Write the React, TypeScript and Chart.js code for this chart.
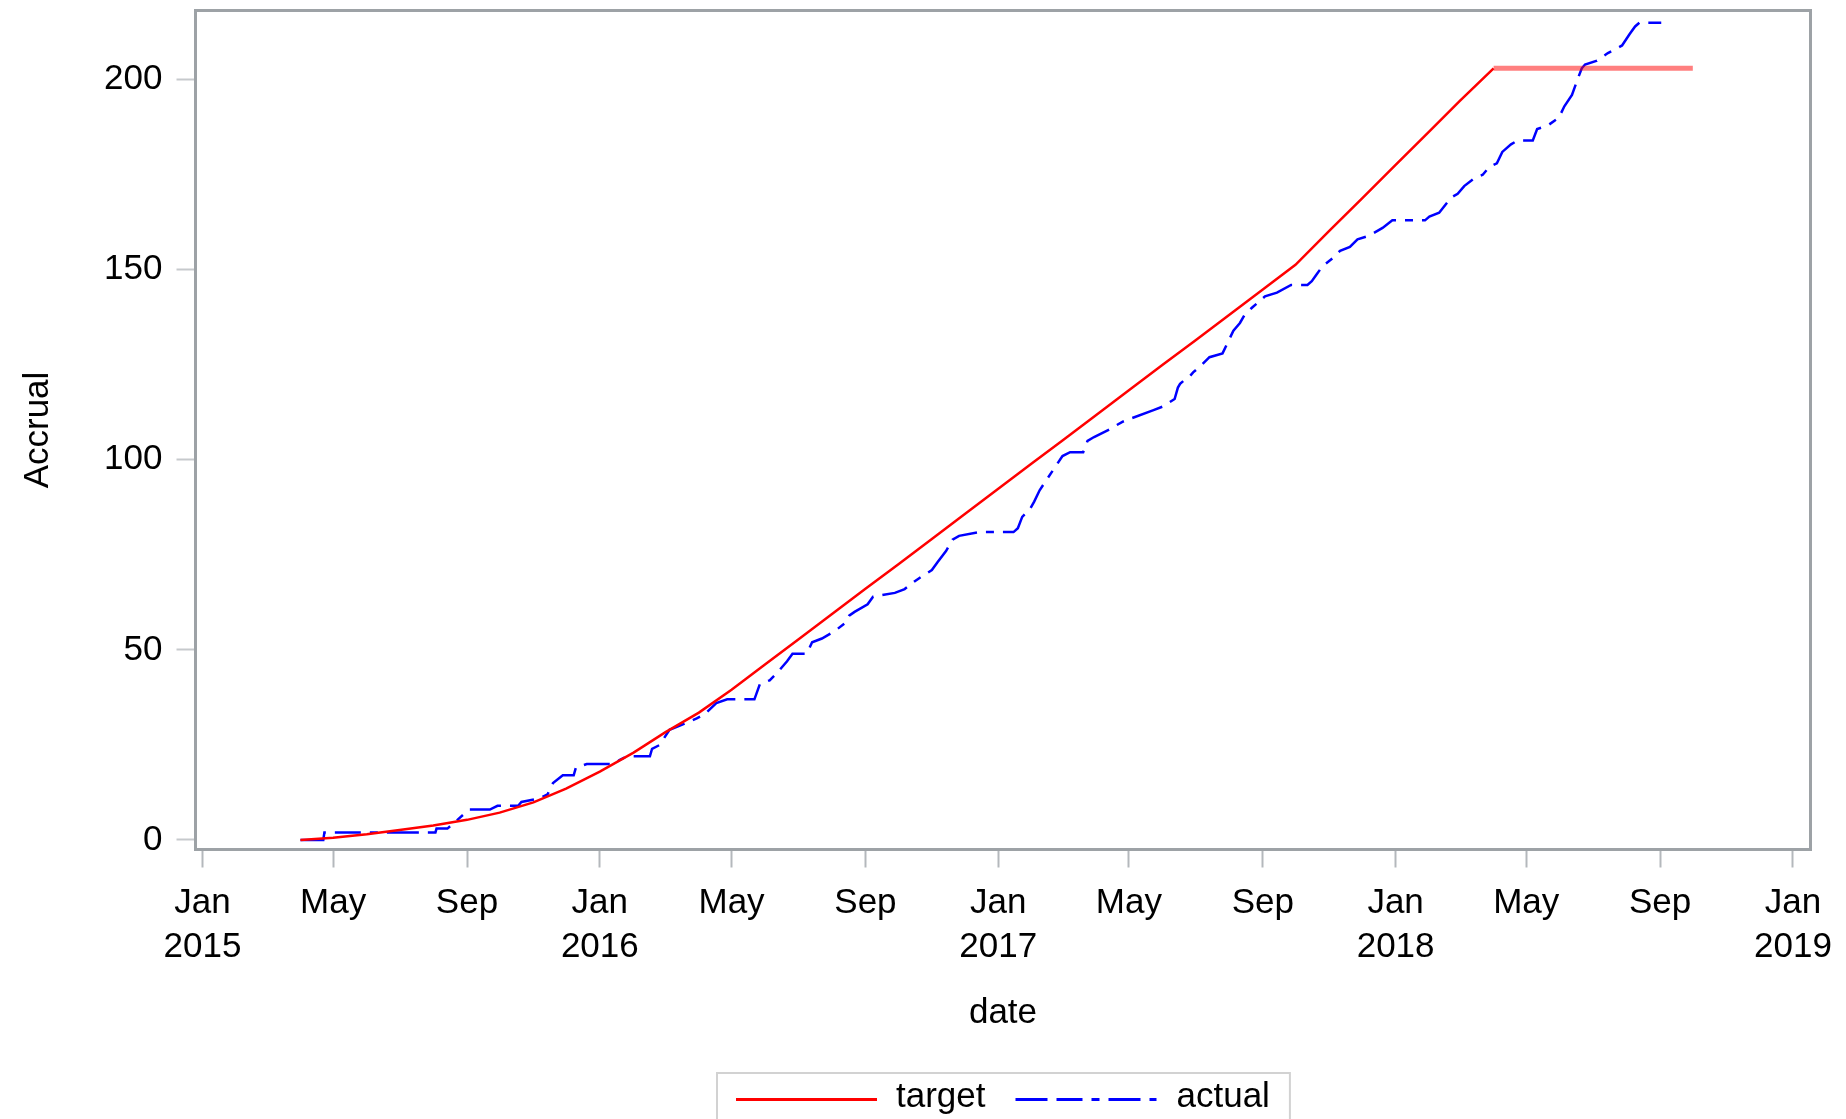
import React, { useEffect, useRef } from 'react';
import { Chart, registerables } from 'chart.js';

Chart.register(...registerables);

const SERIES_NAMES = ['target', 'actual'];

const TARGET_DATES = [
  '2015-04-01', '2015-05-01', '2015-06-01', '2015-07-01', '2015-08-01', '2015-09-01',
  '2015-10-01', '2015-11-01', '2015-12-01', '2016-01-01', '2016-02-01', '2016-03-01',
  '2016-04-01', '2016-05-01', '2016-06-01', '2016-07-01', '2016-08-01', '2016-09-01',
  '2016-10-01', '2016-11-01', '2016-12-01', '2017-01-01', '2017-02-01', '2017-03-01',
  '2017-04-01', '2017-05-01', '2017-06-01', '2017-07-01', '2017-08-01', '2017-09-01',
  '2017-10-01', '2017-11-01', '2017-12-01', '2018-01-01', '2018-02-01', '2018-03-01',
  '2018-04-01', '2018-10-01',
];
const TARGET_VALUES = [
  0, 0.6, 1.5, 2.6, 3.8, 5.3,
  7.2, 9.9, 13.5, 18, 23, 28.3,
  33.5, 39.5, 46.2, 52.7, 59.4, 66.1,
  72.5, 79.2, 85.7, 92.4, 99.1, 105.1,
  111.8, 118.3, 125.0, 131.4, 138.1, 144.8,
  151.3, 160.2, 168.7, 177.6, 186.4, 194.4,
  203, 203,
];

const ACTUAL_DATES = [
  '2015-04-01', '2015-04-22', '2015-04-23', '2015-08-03', '2015-08-04', '2015-08-14',
  '2015-08-30', '2015-09-03', '2015-09-22', '2015-09-29', '2015-10-18', '2015-10-21',
  '2015-11-07', '2015-11-14', '2015-11-19', '2015-11-28', '2015-12-08', '2015-12-10',
  '2015-12-20', '2016-01-14', '2016-01-19', '2016-01-26', '2016-02-16', '2016-02-18',
  '2016-02-25', '2016-03-05', '2016-03-14', '2016-03-30', '2016-04-06', '2016-04-17',
  '2016-04-27', '2016-05-22', '2016-05-27', '2016-06-05', '2016-06-12', '2016-06-21',
  '2016-06-26', '2016-07-09', '2016-07-14', '2016-07-23', '2016-08-04', '2016-08-13',
  '2016-08-17', '2016-08-22', '2016-09-03', '2016-09-08', '2016-09-28', '2016-10-07',
  '2016-10-16', '2016-10-21', '2016-11-01', '2016-11-06', '2016-11-14', '2016-11-20',
  '2016-11-26', '2016-12-15', '2017-01-15', '2017-01-19', '2017-01-23', '2017-01-30',
  '2017-02-03', '2017-02-08', '2017-02-15', '2017-02-22', '2017-03-01', '2017-03-08',
  '2017-03-20', '2017-03-24', '2017-03-30', '2017-04-13', '2017-04-25', '2017-05-04',
  '2017-05-23', '2017-06-01', '2017-06-12', '2017-06-15', '2017-06-17', '2017-06-21',
  '2017-06-26', '2017-06-29', '2017-07-07', '2017-07-14', '2017-07-26', '2017-07-31',
  '2017-08-05', '2017-08-11', '2017-08-15', '2017-08-22', '2017-09-03', '2017-09-14',
  '2017-09-27', '2017-10-12', '2017-10-16', '2017-10-21', '2017-10-26', '2017-11-04',
  '2017-11-11', '2017-11-20', '2017-11-27', '2017-12-08', '2017-12-20', '2017-12-29',
  '2018-01-28', '2018-02-01', '2018-02-10', '2018-02-21', '2018-02-27', '2018-03-05',
  '2018-03-14', '2018-03-22', '2018-03-28', '2018-04-04', '2018-04-09', '2018-04-17',
  '2018-04-23', '2018-05-07', '2018-05-11', '2018-05-21', '2018-05-31', '2018-06-05',
  '2018-06-12', '2018-06-17', '2018-06-21', '2018-06-24', '2018-07-05', '2018-07-15',
  '2018-07-28', '2018-08-04', '2018-08-09', '2018-08-13', '2018-09-02',
];
const ACTUAL_VALUES = [
  0, 0, 2, 2, 3, 3,
  7, 8, 8, 9, 9, 10,
  11, 12, 15, 17, 17, 19,
  20, 20, 21, 22, 22, 24,
  25, 29, 30, 32, 33, 36,
  37, 37, 41, 42, 44, 47,
  49, 49, 52, 53, 55, 57,
  59, 60, 62, 64, 65, 66,
  68, 69, 71, 73, 76, 79,
  80, 81, 81, 82, 85, 87,
  89, 92, 95, 98, 101, 102,
  102, 105, 106, 108, 110, 111,
  113, 114, 116, 119, 120, 121,
  122, 123, 125, 127, 128, 131,
  134, 136, 138, 140, 143, 144,
  146, 146, 147, 149, 151, 153,
  155, 156, 158, 159, 161, 163,
  163, 164, 165, 169, 170, 172,
  174, 175, 177, 178, 181, 183,
  184, 184, 187, 188, 190, 193,
  196, 200, 203, 204, 205, 207,
  209, 212, 214, 215, 215,
];

const X_TICK_DATES = [
  '2015-01-01', '2015-05-01', '2015-09-01',
  '2016-01-01', '2016-05-01', '2016-09-01',
  '2017-01-01', '2017-05-01', '2017-09-01',
  '2018-01-01', '2018-05-01', '2018-09-01',
  '2019-01-01',
];
const X_TICK_LABELS: (string | string[])[] = [
  ['Jan', '2015'], 'May', 'Sep',
  ['Jan', '2016'], 'May', 'Sep',
  ['Jan', '2017'], 'May', 'Sep',
  ['Jan', '2018'], 'May', 'Sep',
  ['Jan', '2019'],
];
const Y_TICKS = [0, 50, 100, 150, 200];

const X_TITLE = 'date';
const Y_TITLE = 'Accrual';

const DAY = 86400000;
const toTime = (s: string) => {
  const [y, m, d] = s.split('-').map(Number);
  return Date.UTC(y, m - 1, d);
};
const X_MIN = toTime('2015-01-01') - 6.4 * DAY;
const X_MAX = toTime('2019-01-01') + 16.1 * DAY;
const Y_MIN = -2.5;
const Y_MAX = 218.2;

const FONT_FAMILY = '"Liberation Sans", Arial, sans-serif';
const FONT_SIZE = 35;
const ACTUAL_DASH = [32, 9, 26, 9, 8, 9];

const framePlugin = {
  id: 'frame',
  afterDraw(chart: any) {
    const { ctx, chartArea } = chart;
    ctx.save();
    ctx.strokeStyle = '#9da2a6';
    ctx.lineWidth = 3;
    ctx.setLineDash([]);
    ctx.strokeRect(chartArea.left, chartArea.top, chartArea.right - chartArea.left, chartArea.bottom - chartArea.top);
    ctx.restore();
  },
};

const legendPlugin = {
  id: 'boxLegend',
  afterDraw(chart: any) {
    const { ctx, chartArea } = chart;
    const ds = chart.data.datasets;
    ctx.save();
    ctx.font = `${FONT_SIZE}px ${FONT_FAMILY}`;
    const w1 = ctx.measureText(SERIES_NAMES[0]).width;
    const w2 = ctx.measureText(SERIES_NAMES[1]).width;
    const lineLen = 141;
    const total = 19 + lineLen + 19 + w1 + 30 + lineLen + 20 + w2 + 20;
    const left = Math.round((chartArea.left + chartArea.right) / 2 - total / 2);
    const top = chart.height - 46;
    const lineY = top + 26.5;
    ctx.strokeStyle = '#d2d2d2';
    ctx.lineWidth = 2;
    ctx.strokeRect(left, top, total, 90);

    let x = left + 19;
    ctx.lineCap = 'butt';
    ctx.strokeStyle = ds[0].borderColor;
    ctx.lineWidth = 3;
    ctx.setLineDash([]);
    ctx.beginPath();
    ctx.moveTo(x, lineY);
    ctx.lineTo(x + lineLen, lineY);
    ctx.stroke();
    x += lineLen + 19;
    ctx.fillStyle = '#000';
    ctx.textBaseline = 'middle';
    ctx.textAlign = 'left';
    ctx.fillText(SERIES_NAMES[0], x, lineY - 2);
    x += w1 + 30;
    ctx.strokeStyle = ds[1].borderColor;
    ctx.setLineDash(ACTUAL_DASH);
    ctx.beginPath();
    ctx.moveTo(x, lineY);
    ctx.lineTo(x + lineLen, lineY);
    ctx.stroke();
    ctx.setLineDash([]);
    x += lineLen + 20;
    ctx.fillText(SERIES_NAMES[1], x, lineY - 2);
    ctx.restore();
  },
};

const isFlatTop = (c: any) => c.p0.parsed.y === c.p1.parsed.y && c.p0.parsed.y >= 200;

export default function App() {
  const ref = useRef<HTMLCanvasElement>(null);

  useEffect(() => {
    const canvas = ref.current;
    if (!canvas) return;
    Chart.defaults.font.family = FONT_FAMILY;
    Chart.defaults.font.size = FONT_SIZE;
    Chart.defaults.color = '#000';

    const chart = new Chart(canvas, {
      type: 'line',
      data: {
        datasets: [
          {
            label: SERIES_NAMES[0],
            data: TARGET_DATES.map((d, i) => ({ x: toTime(d), y: TARGET_VALUES[i] })),
            borderColor: '#ff0000',
            borderWidth: 2.5,
            pointRadius: 0,
            tension: 0,
            fill: false,
            segment: {
              borderColor: (c: any) => (isFlatTop(c) ? 'rgba(255,0,0,0.5)' : undefined),
              borderWidth: (c: any) => (isFlatTop(c) ? 5 : undefined),
            },
          } as any,
          {
            label: SERIES_NAMES[1],
            data: ACTUAL_DATES.map((d, i) => ({ x: toTime(d), y: ACTUAL_VALUES[i] })),
            borderColor: '#0000ff',
            borderWidth: 2.5,
            borderDash: ACTUAL_DASH,
            pointRadius: 0,
            tension: 0,
            fill: false,
          } as any,
        ],
      },
      options: {
        responsive: false,
        animation: false,
        devicePixelRatio: 1,
        events: [],
        layout: { padding: { top: 10.5, right: 35.5, bottom: 0, left: 0 } },
        plugins: {
          legend: { display: false },
          tooltip: { enabled: false },
        },
        scales: {
          x: {
            type: 'linear',
            min: X_MIN,
            max: X_MAX,
            border: { display: false },
            grid: {
              drawOnChartArea: false,
              drawTicks: true,
              tickLength: 18,
              tickColor: '#b4b8bc',
              tickWidth: 2,
            },
            ticks: {
              autoSkip: false,
              maxRotation: 0,
              minRotation: 0,
              padding: 14,
              color: '#000',
              font: { size: FONT_SIZE, lineHeight: 1.25 },
              callback: (_v: any, i: number) => X_TICK_LABELS[i],
            },
            title: {
              display: true,
              text: X_TITLE,
              color: '#000',
              font: { size: FONT_SIZE },
              padding: { top: 0, bottom: 85 },
            },
            afterBuildTicks: (s: any) => {
              s.ticks = X_TICK_DATES.map((d) => ({ value: toTime(d) }));
            },
            afterFit: (s: any) => {
              s.height = 1119 - 849.5;
              s.paddingLeft = 0;
              s.paddingRight = 0;
            },
          },
          y: {
            type: 'linear',
            min: Y_MIN,
            max: Y_MAX,
            border: { display: false },
            grid: {
              drawOnChartArea: false,
              drawTicks: true,
              tickLength: 19,
              tickColor: '#c6c9cc',
              tickWidth: 2,
            },
            ticks: {
              padding: 14,
              color: '#000',
              font: { size: FONT_SIZE },
            },
            title: {
              display: true,
              text: Y_TITLE,
              color: '#000',
              font: { size: FONT_SIZE },
              padding: { top: 17, bottom: 0 },
            },
            afterBuildTicks: (s: any) => {
              s.ticks = Y_TICKS.map((v) => ({ value: v }));
            },
            afterFit: (s: any) => {
              s.width = 195.5;
              s.paddingTop = 0;
              s.paddingBottom = 0;
            },
          },
        },
      } as any,
      plugins: [framePlugin, legendPlugin],
    });

    return () => chart.destroy();
  }, []);

  return (
    <div style={{ position: 'fixed', left: 0, top: 0, width: 1846, height: 1119, background: '#fff' }}>
      <canvas ref={ref} width={1846} height={1119} style={{ display: 'block' }} />
    </div>
  );
}
